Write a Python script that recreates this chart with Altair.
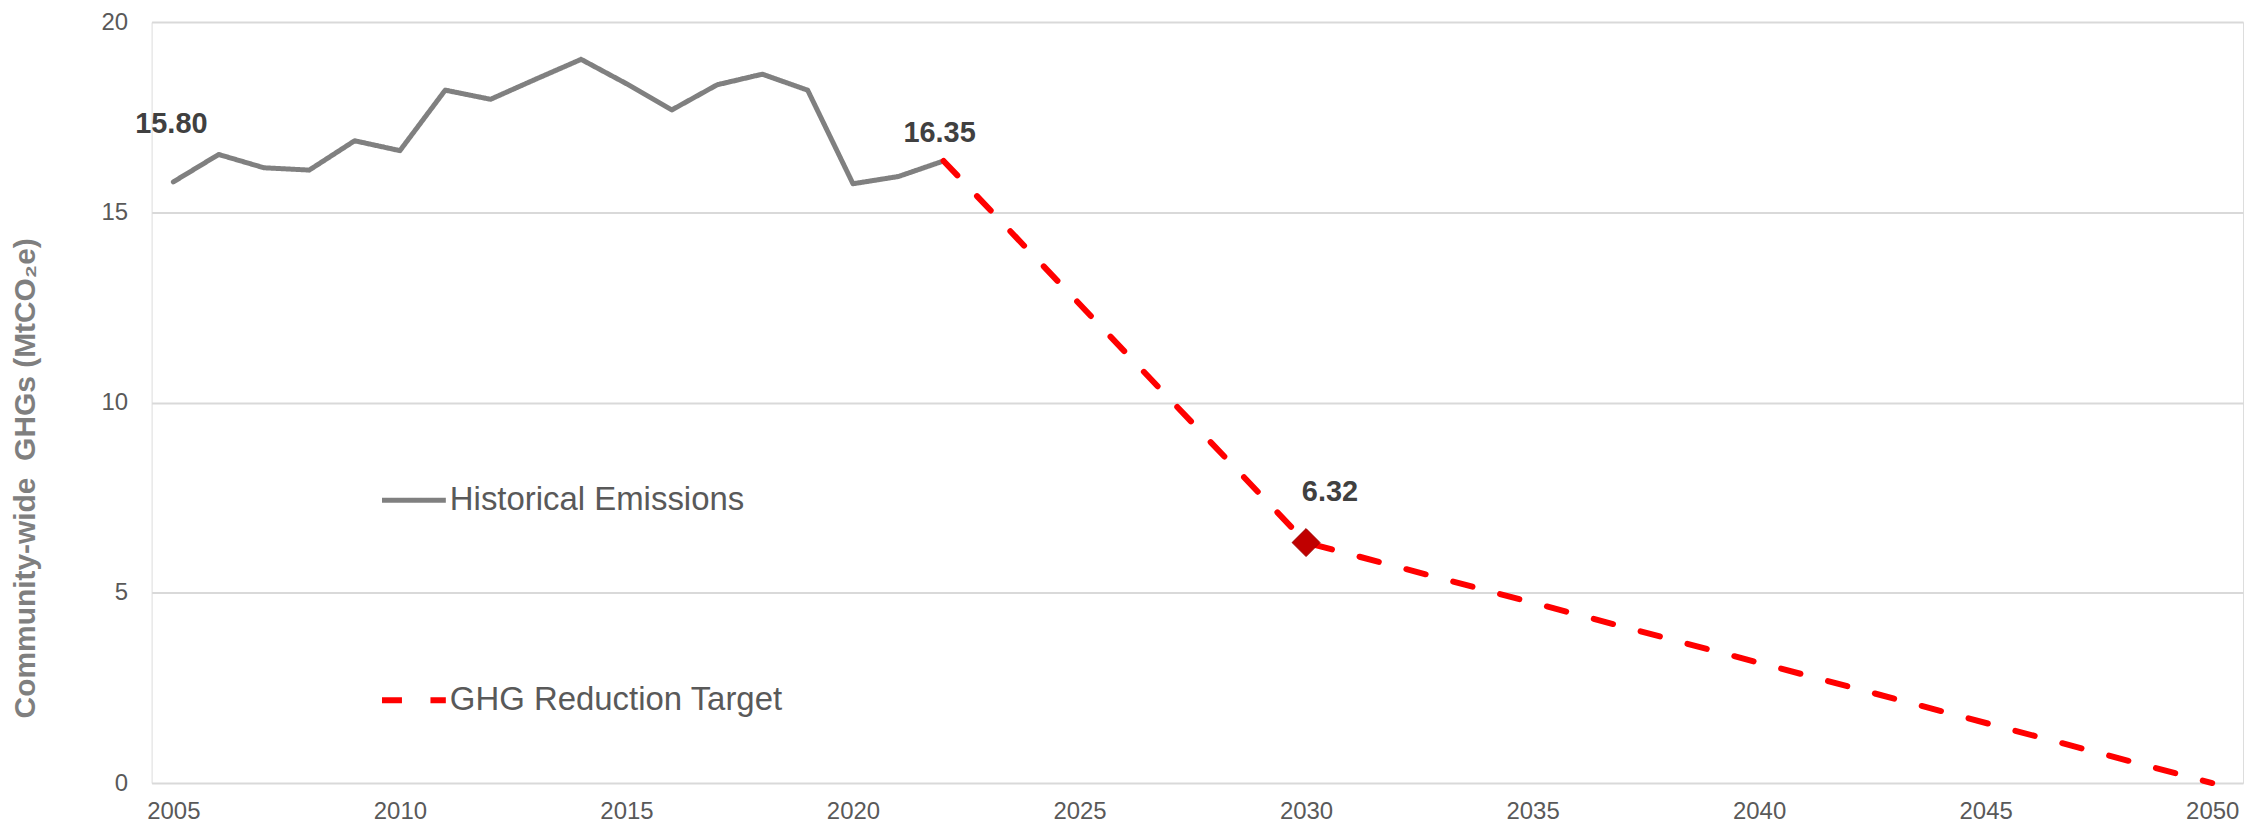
import altair as alt
import pandas as pd

hist_years = list(range(2005, 2023))
hist_values = [15.80, 16.52, 16.17, 16.11, 16.88, 16.62, 18.21, 17.97, 18.50,
               19.02, 18.38, 17.69, 18.35, 18.63, 18.21, 15.75, 15.94, 16.35]
target_years = [2022, 2030, 2050]
target_values = [16.35, 6.32, 0.0]
series_names = ["Historical Emissions", "GHG Reduction Target"]
x_ticks = [2005, 2010, 2015, 2020, 2025, 2030, 2035, 2040, 2045, 2050]
y_ticks = [0, 5, 10, 15, 20]
label_years = [2005, 2022, 2030]
label_values = [15.80, 16.35, 6.32]
label_texts = ["15.80", "16.35", "6.32"]

df = pd.DataFrame({
    "year": hist_years + target_years,
    "value": hist_values + target_values,
    "series": [series_names[0]] * len(hist_years) + [series_names[1]] * len(target_years),
})
labels_df = pd.DataFrame({"year": label_years, "value": label_values, "text": label_texts})
marker_df = pd.DataFrame({"year": [target_years[1]], "value": [target_values[1]]})

FONT = "Liberation Sans"

x = alt.X("year:Q",
          scale=alt.Scale(domain=[2004.52, 2050.68], nice=False, zero=False),
          axis=alt.Axis(values=x_ticks, format="d", title=None, grid=False, ticks=False,
                        domain=False, labelFontSize=24, labelColor="#595959",
                        labelPadding=17, labelFont=FONT, labelFlush=False,
                        labelOverlap=False))
y = alt.Y("value:Q",
          scale=alt.Scale(domain=[0, 20], nice=False),
          axis=alt.Axis(values=y_ticks, title="Community-wide\u00a0\u00a0GHGs (MtCO₂e)", grid=True,
                        gridColor="#D9D9D9", gridWidth=2, ticks=False, domain=False,
                        labelFontSize=24, labelColor="#595959", labelPadding=24,
                        labelFont=FONT, titleFont=FONT, titleFontSize=30,
                        titleFontWeight="bold", titleColor="#7F7F7F", titleAngle=270,
                        titleX=-126, titleY=457, titleAlign="center",
                        titleBaseline="middle", titleLimit=0))

leg = dict(title=None, orient="none", legendX=228, legendY=445, direction="vertical",
           symbolType="stroke", symbolSize=4096, labelFontSize=33, labelColor="#595959",
           labelFont=FONT, labelOffset=1, rowPadding=148, labelLimit=0)

lines = alt.Chart(df).mark_line(strokeCap="round", strokeJoin="round").encode(
    x=x, y=y,
    color=alt.Color("series:N", scale=alt.Scale(domain=series_names, range=["#808080", "#FF0000"]),
                    legend=alt.Legend(**leg)),
    strokeDash=alt.StrokeDash("series:N", scale=alt.Scale(domain=series_names, range=[[1, 0], [20, 28.6]]),
                              legend=alt.Legend(**leg)),
    strokeWidth=alt.StrokeWidth("series:N", scale=alt.Scale(domain=series_names, range=[5, 6]),
                                legend=alt.Legend(**leg)),
)

marker = alt.Chart(marker_df).mark_point(shape="diamond", filled=True, size=784, fill="#C00000",
                                         stroke="#A00000", strokeWidth=1, opacity=1).encode(x=x, y=y)

def lab(i, dx, dy):
    return alt.Chart(labels_df.iloc[[i]]).mark_text(
        font=FONT, fontSize=29, fontWeight="bold", color="#404040", dx=dx, dy=dy,
        align="center", baseline="middle").encode(x=x, y=y, text="text:N")

chart = alt.layer(lines, marker, lab(0, -2, -58), lab(1, -4, -28), lab(2, 24, -51)).properties(
    width=2097, height=763,
    padding={"left": 144, "top": 13, "right": 4, "bottom": 46},
    autosize=alt.AutoSizeParams(type="none"),
).configure_view(stroke="#D0D0D0", strokeWidth=2).configure(background="white")

chart.save("out.html", embed_options={"renderer": "svg", "actions": False})
